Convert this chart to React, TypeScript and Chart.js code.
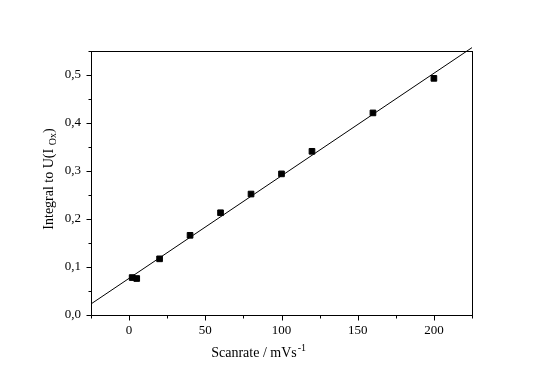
import React, { useEffect, useRef } from 'react';
import { Chart, registerables } from 'chart.js';

Chart.register(...registerables);

// Data
const scanRates = [2, 5, 20, 40, 60, 80, 100, 120, 160, 200];
const integrals = [0.078, 0.076, 0.117, 0.166, 0.213, 0.252, 0.294, 0.341, 0.421, 0.493];
const fitX = [-25, 225];
const fitY = [0.023, 0.557];

const xRange = [-25, 225];
const xStep = 25;
const yRange = [0, 0.55];
const yStep = 0.05;

const xTitleMain = 'Scanrate / mVs';
const xTitleSup = '-1';
const yTitleMain = 'Integral to U(I ';
const yTitleSub = 'Ox';
const yTitleEnd = ')';

const FONT = '"Liberation Serif", "Times New Roman", serif';

const framePlugin = {
  id: 'frameTicksTitles',
  afterDraw(chart: any) {
    const { ctx, chartArea: a, scales } = chart;
    ctx.save();
    ctx.strokeStyle = '#000';
    ctx.lineWidth = 1;
    const L = Math.round(a.left) + 0.5;
    const R = Math.round(a.right) + 0.5;
    const T = Math.round(a.top) + 0.5;
    const B = Math.round(a.bottom) + 0.5;
    ctx.strokeRect(L, T, R - L, B - T);
    ctx.beginPath();
    scales.x.ticks.forEach((t: any) => {
      const px = Math.round(scales.x.getPixelForValue(t.value)) + 0.5;
      const len = t.label ? 5 : 3;
      ctx.moveTo(px, B);
      ctx.lineTo(px, B + len);
    });
    scales.y.ticks.forEach((t: any) => {
      const py = Math.round(scales.y.getPixelForValue(t.value)) + 0.5;
      const len = t.label ? 5 : 3;
      ctx.moveTo(L, py);
      ctx.lineTo(L - len, py);
    });
    ctx.stroke();

    ctx.fillStyle = '#000';
    ctx.textBaseline = 'alphabetic';
    ctx.textAlign = 'left';

    // X title with superscript
    const mainFont = `14px ${FONT}`;
    const smallFont = `10px ${FONT}`;
    ctx.font = mainFont;
    const wMain = ctx.measureText(xTitleMain).width;
    ctx.font = smallFont;
    const wSup = ctx.measureText(xTitleSup).width;
    const xCenter = a.left + (a.right - a.left) * 0.44;
    const xStart = xCenter - (wMain + wSup + 1) / 2;
    const xBase = a.bottom + 42;
    ctx.font = mainFont;
    ctx.fillText(xTitleMain, xStart, xBase);
    ctx.font = smallFont;
    ctx.fillText(xTitleSup, xStart + wMain + 1, xBase - 6);

    // Y title rotated with subscript
    ctx.font = mainFont;
    const w1 = ctx.measureText(yTitleMain).width;
    const w3 = ctx.measureText(yTitleEnd).width;
    ctx.font = smallFont;
    const w2 = ctx.measureText(yTitleSub).width;
    const total = w1 + w2 + w3;
    const yCenter = a.top + (a.bottom - a.top) * 0.485;
    ctx.translate(a.left - 38, yCenter);
    ctx.rotate(-Math.PI / 2);
    let cx = -total / 2;
    ctx.font = mainFont;
    ctx.fillText(yTitleMain, cx, 0);
    cx += w1;
    ctx.font = smallFont;
    ctx.fillText(yTitleSub, cx, 3);
    cx += w2;
    ctx.font = mainFont;
    ctx.fillText(yTitleEnd, cx, 0);
    ctx.restore();
  },
};

export default function App() {
  const ref = useRef<HTMLCanvasElement | null>(null);

  useEffect(() => {
    if (!ref.current) return;
    const chart = new Chart(ref.current, {
      type: 'scatter',
      data: {
        datasets: [
          {
            label: 'fit',
            data: fitX.map((x, i) => ({ x, y: fitY[i] })),
            showLine: true,
            borderColor: '#000',
            borderWidth: 1,
            pointRadius: 0,
            clip: false as any,
            order: 2,
          },
          {
            label: 'data',
            data: scanRates.map((x, i) => ({ x, y: integrals[i] })),
            pointStyle: 'rect',
            pointRadius: 4,
            pointBorderWidth: 1,
            pointBorderColor: '#000',
            pointBackgroundColor: '#000',
            backgroundColor: '#000',
            borderColor: '#000',
            showLine: false,
            order: 1,
          },
        ],
      },
      options: {
        animation: false,
        responsive: false,
        events: [],
        layout: { padding: { left: 0, top: 51, right: 72, bottom: 0 } },
        plugins: { legend: { display: false }, tooltip: { enabled: false }, title: { display: false } },
        scales: {
          x: {
            type: 'linear',
            min: xRange[0],
            max: xRange[1],
            grid: { display: false, drawTicks: false },
            border: { display: false },
            ticks: {
              stepSize: xStep,
              autoSkip: false,
              maxRotation: 0,
              padding: 8,
              color: '#000',
              font: { family: FONT, size: 13 },
              callback: (v: any) => (Math.round(v) % 50 === 0 ? String(Math.round(v)) : ''),
            },
            afterFit: (s: any) => {
              s.height = 63;
            },
          },
          y: {
            type: 'linear',
            min: yRange[0],
            max: yRange[1],
            grid: { display: false, drawTicks: false },
            border: { display: false },
            ticks: {
              stepSize: yStep,
              autoSkip: false,
              padding: 10,
              color: '#000',
              font: { family: FONT, size: 13 },
              callback: (v: any) => {
                const n = Math.round(Number(v) * 100);
                return n % 10 === 0 ? (n / 100).toFixed(1).replace('.', ',') : '';
              },
            },
            afterFit: (s: any) => {
              s.width = 91;
            },
          },
        },
      },
      plugins: [framePlugin],
    });
    return () => chart.destroy();
  }, []);

  return (
    <div style={{ position: 'fixed', left: 0, top: 0, width: 544, height: 378, background: '#fff' }}>
      <canvas ref={ref} width={544} height={378} style={{ display: 'block', width: 544, height: 378 }} />
    </div>
  );
}
